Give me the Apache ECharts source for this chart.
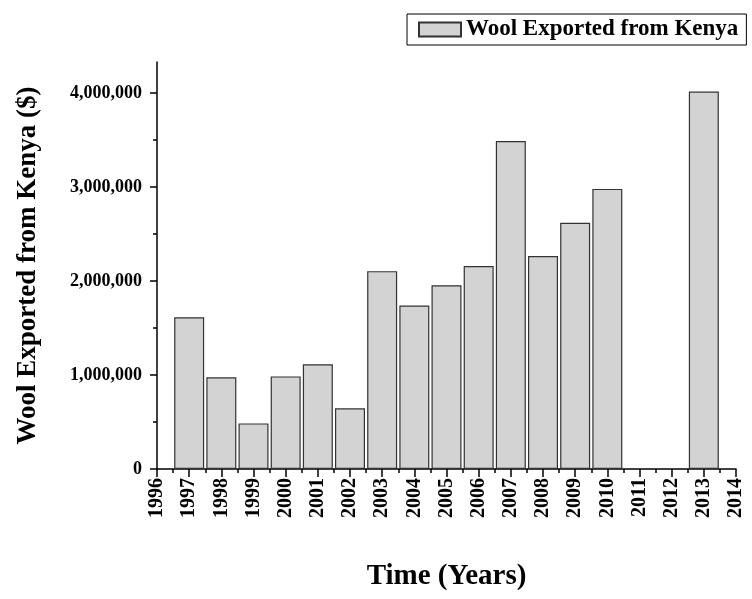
<!DOCTYPE html>
<html>
<head>
<meta charset="utf-8">
<script src="https://cdn.jsdelivr.net/npm/echarts@6/dist/echarts.min.js"></script>
<style>
  * { margin: 0; padding: 0; }
  html, body { background: #fff; }
</style>
</head>
<body>
<div id="chart" style="width: 752px;height: 599px;"></div>
<script>
  // years and export values (2011, 2012 have no bar)
  var years = [1997, 1998, 1999, 2000, 2001, 2002, 2003, 2004, 2005, 2006, 2007, 2008, 2009, 2010, 2013]
  var exported = [1615000, 975000, 485000, 985000, 1115000, 645000, 2105000, 1740000, 1955000, 2160000, 3490000, 2265000, 2620000, 2980000, 4015000]
  var yTicks = [0, 1000000, 2000000, 3000000, 4000000]
  var seriesName = 'Wool Exported from Kenya'

  var font = 'Liberation Serif'
  var myChart = echarts.init(document.getElementById('chart'))

  var barData = years.map(function (y, i) {
    return [y, exported[i]]
  })

  myChart.setOption({
    animation: false,
    backgroundColor: '#fff',
    textStyle: {fontFamily: font},
    legend: {
      left: 407,
      top: 14,
      padding: [4, 8, 4, 11],
      borderColor: '#000',
      borderWidth: 1,
      itemWidth: 42,
      itemHeight: 14,
      icon: 'rect',
      textStyle: {
        fontFamily: font,
        fontWeight: 'bold',
        fontSize: 23,
        color: '#000',
        padding: [0, 0, 0, 0]
      },
      data: [seriesName]
    },
    grid: {
      left: 157,
      right: 16,
      top: 62,
      bottom: 130,
      containLabel: false
    },
    xAxis: {
      type: 'value',
      min: 1996,
      max: 2014,
      interval: 1,
      name: 'Time (Years)',
      nameLocation: 'middle',
      nameGap: 93,
      nameTextStyle: {fontFamily: font, fontWeight: 'bold', fontSize: 29, color: '#000'},
      axisLine: {show: true, onZero: false, lineStyle: {color: '#000', width: 1.5}},
      axisTick: {show: true, length: 8, lineStyle: {color: '#000', width: 1.5}},
      minorTick: {show: true, splitNumber: 2, length: 4, lineStyle: {color: '#000', width: 1.5}},
      splitLine: {show: false},
      axisLabel: {
        rotate: 90,
        margin: 9,
        fontFamily: font,
        fontWeight: 'bold',
        fontSize: 20,
        color: '#000',
        formatter: function (v) {
          return String(v)
        }
      }
    },
    yAxis: {
      type: 'value',
      min: 0,
      max: 4330000,
      interval: 1000000,
      name: 'Wool Exported from Kenya ($)',
      nameLocation: 'middle',
      nameGap: 115,
      nameTextStyle: {fontFamily: font, fontWeight: 'bold', fontSize: 27, color: '#000'},
      axisLine: {show: true, lineStyle: {color: '#000', width: 1.5}},
      axisTick: {show: true, length: 7, customValues: yTicks, lineStyle: {color: '#000', width: 1.5}},
      minorTick: {show: true, splitNumber: 2, length: 4, lineStyle: {color: '#000', width: 1.5}},
      splitLine: {show: false},
      axisLabel: {
        margin: 15,
        fontFamily: font,
        fontWeight: 'bold',
        fontSize: 18,
        color: '#000',
        customValues: yTicks
      }
    },
    series: [{
      name: seriesName,
      type: 'bar',
      barWidth: 30,
      data: barData,
      itemStyle: {
        color: '#d3d3d3',
        borderColor: '#333',
        borderWidth: 1.2
      }
    }]
  })
</script>
</body>
</html>
